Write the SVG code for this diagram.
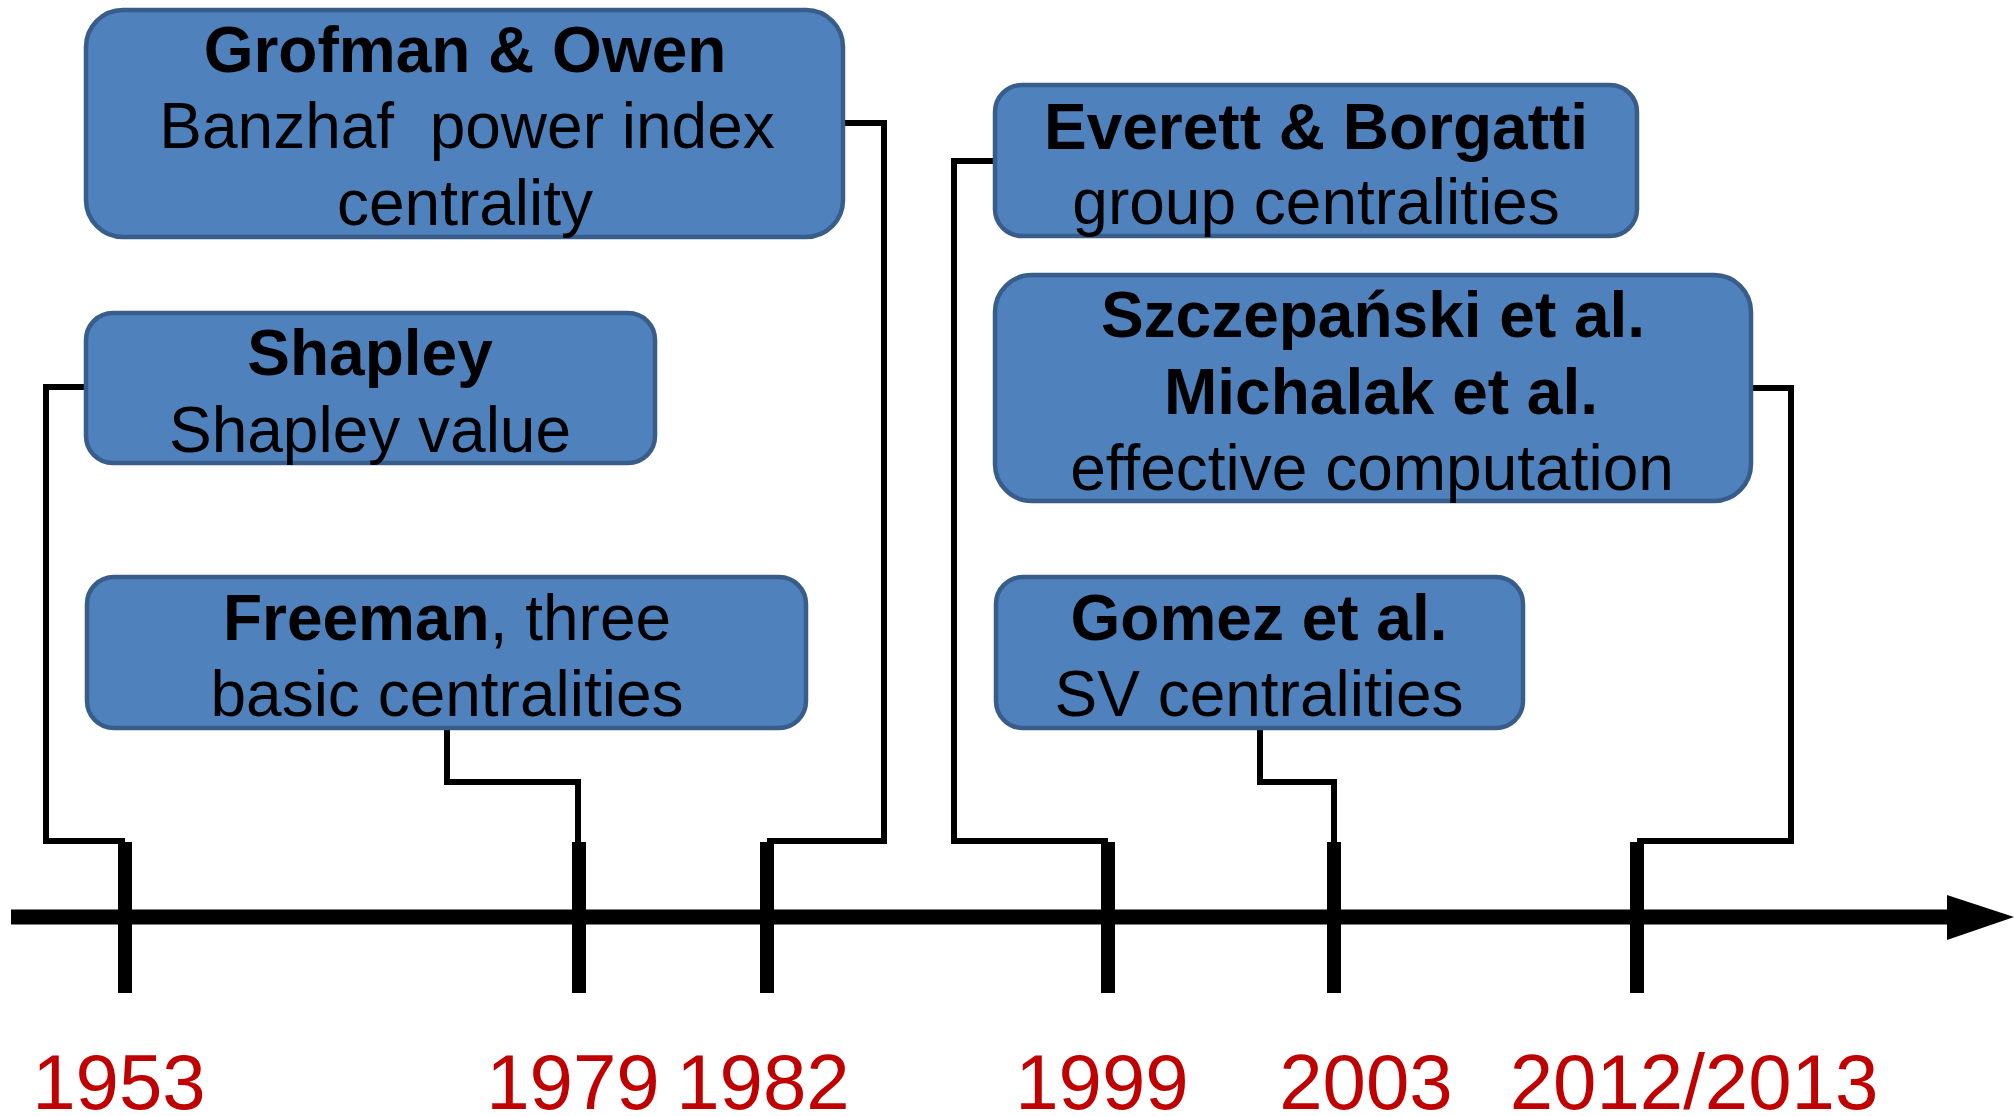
<svg xmlns="http://www.w3.org/2000/svg" width="2014" height="1116" viewBox="0 0 2014 1116">
  <style>
    .box { fill: #4F81BD; stroke: #385D8A; stroke-width: 4.5; }
    .t { font-family: "Liberation Sans", Arial, sans-serif; font-size: 64px; fill: #000; text-anchor: middle; white-space: pre; }
    .b { font-weight: bold; }
    .wire { fill: none; stroke: #000; stroke-width: 6; stroke-linejoin: miter; }
    .tick { stroke: #000; stroke-width: 14; }
    .year { font-family: "Liberation Sans", Arial, sans-serif; font-size: 78px; fill: #C00000; text-anchor: middle; }
  </style>

  <rect width="2014" height="1116" fill="#FFFFFF"/>

  <!-- timeline axis -->
  <g id="axis">
    <line x1="11" y1="917" x2="1950" y2="917" stroke="#000" stroke-width="15"/>
    <polygon points="1947,895 2014,917 1947,940" fill="#000"/>
    <line class="tick" x1="125" y1="842" x2="125" y2="993"/>
    <line class="tick" x1="579" y1="842" x2="579" y2="993"/>
    <line class="tick" x1="767" y1="842" x2="767" y2="993"/>
    <line class="tick" x1="1108" y1="842" x2="1108" y2="993"/>
    <line class="tick" x1="1334" y1="842" x2="1334" y2="993"/>
    <line class="tick" x1="1637" y1="842" x2="1637" y2="993"/>
  </g>

  <!-- connectors from boxes to timeline ticks -->
  <g id="connectors">
    <path class="wire" d="M86 387 H46 V841 H125"/>
    <path class="wire" d="M447 730 V782 H578 V844"/>
    <path class="wire" d="M845 123 H884 V841 H767"/>
    <path class="wire" d="M995 161 H954 V841 H1108"/>
    <path class="wire" d="M1260 730 V782 H1334 V844"/>
    <path class="wire" d="M1753 388 H1791 V841 H1637"/>
  </g>

  <g id="grofman-owen">
    <rect class="box" x="86" y="10" width="757" height="227" rx="37" ry="37"/>
    <text class="t b" x="465" y="72">Grofman &amp; Owen</text>
    <text class="t" x="467" y="148">Banzhaf  power index</text>
    <text class="t" x="465" y="225">centrality</text>
  </g>

  <g id="shapley">
    <rect class="box" x="86" y="313" width="569" height="150" rx="27" ry="27"/>
    <text class="t b" x="370" y="375">Shapley</text>
    <text class="t" x="370" y="452">Shapley value</text>
  </g>

  <g id="freeman">
    <rect class="box" x="87" y="577" width="719" height="151" rx="27" ry="27"/>
    <text class="t" x="447" y="640"><tspan class="b">Freeman</tspan>, three</text>
    <text class="t" x="447" y="716">basic centralities</text>
  </g>

  <g id="everett-borgatti">
    <rect class="box" x="995" y="85" width="642" height="151" rx="27" ry="27"/>
    <text class="t b" x="1316" y="149">Everett &amp; Borgatti</text>
    <text class="t" x="1316" y="224">group centralities</text>
  </g>

  <g id="szczepanski-michalak">
    <rect class="box" x="995" y="275" width="756" height="226" rx="37" ry="37"/>
    <text class="t b" x="1373" y="337">Szczepański et al.</text>
    <text class="t b" x="1381" y="414">Michalak et al.</text>
    <text class="t" x="1372" y="490">effective computation</text>
  </g>

  <g id="gomez">
    <rect class="box" x="996" y="577" width="527" height="151" rx="27" ry="27"/>
    <text class="t b" x="1259" y="640">Gomez et al.</text>
    <text class="t" x="1259" y="716">SV centralities</text>
  </g>

  <!-- year labels -->
  <g id="years">
    <text class="year" x="119" y="1109">1953</text>
    <text class="year" x="573" y="1109">1979</text>
    <text class="year" x="763" y="1109">1982</text>
    <text class="year" x="1102" y="1109">1999</text>
    <text class="year" x="1366" y="1109">2003</text>
    <text class="year" x="1694" y="1109">2012/2013</text>
  </g>
</svg>
